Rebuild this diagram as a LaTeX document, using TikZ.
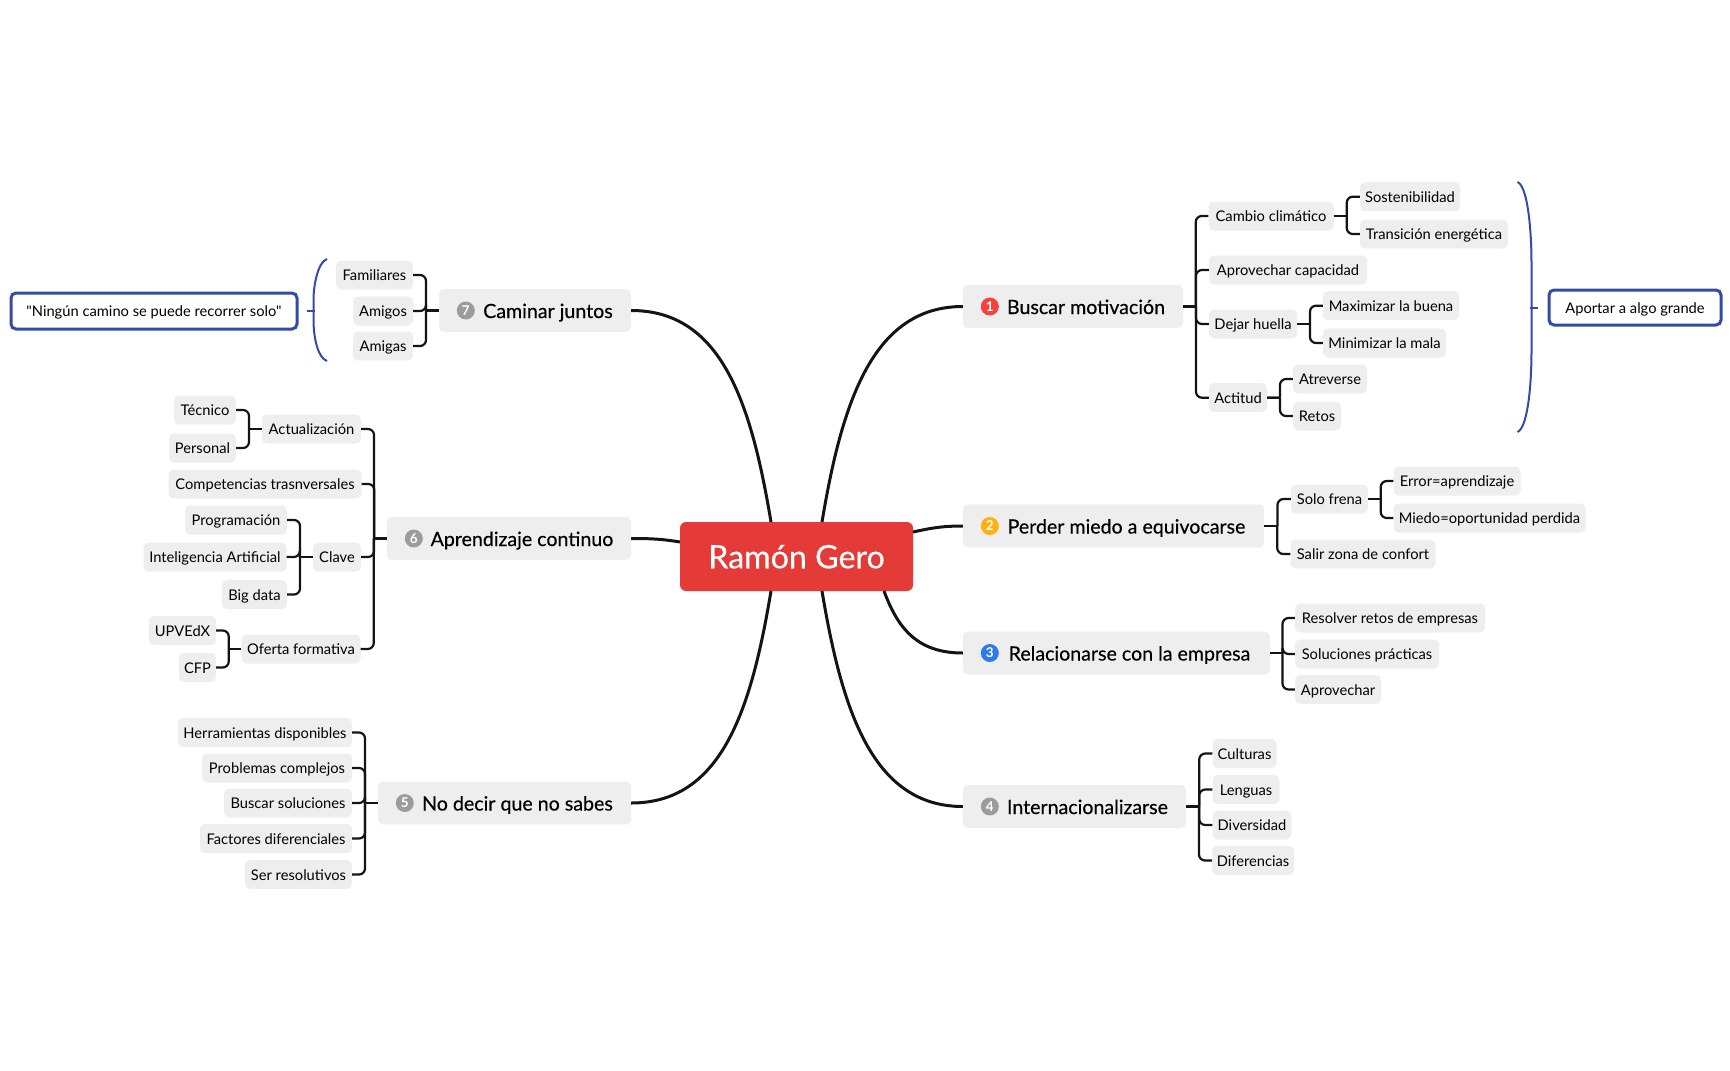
\documentclass[tikz,border=0pt]{standalone}
\usepackage{fontspec}
\setmainfont{Lato}[Ligatures=TeXOff]
\newfontfamily\heavyfont{Lato}[FakeBold=0.35, Ligatures=TeXOff]
\usetikzlibrary{calc}
\definecolor{rootRed}{HTML}{E53B38}
\definecolor{boxGray}{HTML}{EEEEEE}
\definecolor{lineBlack}{HTML}{141414}
\definecolor{noteBlue}{HTML}{3549A8}
\definecolor{badgeRed}{HTML}{F4433C}
\definecolor{badgeOrange}{HTML}{FFB20F}
\definecolor{badgeBlue}{HTML}{2F7BEE}
\definecolor{badgeGray}{HTML}{9C9C9C}
\tikzset{
    rootnode/.style={fill=rootRed, text=white, rounded corners=6pt, minimum height=69pt, minimum width=233pt, inner sep=0pt, text height=23.5pt, text depth=0pt, font=\heavyfont\fontsize{32.2}{36}\selectfont},
    mainnode/.style={fill=boxGray, text=black, rounded corners=5pt, minimum height=43pt, inner sep=0pt, text height=15pt, text depth=0pt, font=\heavyfont\fontsize{19.6}{23}\selectfont},
    subnode/.style={fill=boxGray, text=black, rounded corners=5pt, minimum height=29pt, inner sep=0pt, text height=11pt, text depth=0pt, font=\fontsize{14.7}{18}\selectfont},
    notebox/.style={draw=noteBlue, line width=3pt, fill=white, text=black, rounded corners=5pt, inner sep=0pt, text height=11pt, text depth=0pt, font=\fontsize{14.7}{18}\selectfont},
    badge/.style={circle, text=white, inner sep=0pt, minimum size=18pt, text height=9.5pt, text depth=0pt, font=\fontsize{13.5}{14}\bfseries\selectfont},
    mainlink/.style={draw=lineBlack, line width=3pt},
    sublink/.style={draw=lineBlack, line width=2.2pt},
    sublinkbend/.style={sublink, rounded corners=6pt},
    summaryline/.style={draw=noteBlue, line width=2pt}
}
\newcommand{\branchR}[2]{\foreach \kid in {#2} {
    \coordinate (trunk) at ($(#1.east)!.5!(\kid.west |- #1.east)$);
    \draw[sublink] (#1.east) -- (trunk);
    \draw[sublinkbend] (trunk) |- (\kid.west);}}
\newcommand{\branchL}[2]{\foreach \kid in {#2} {
    \coordinate (trunk) at ($(#1.west)!.5!(\kid.east |- #1.west)$);
    \draw[sublink] (#1.west) -- (trunk);
    \draw[sublinkbend] (trunk) |- (\kid.east);}}
\newcommand{\badgegap}{\hspace*{26pt}}
\begin{document}
\begin{tikzpicture}[x=1pt, y=-1pt]
    \useasboundingbox (0,0) rectangle (1730,1071);

    \node[rootnode] (root) at (796.5,556.5) {Ramón Gero};
    \coordinate (rootNE) at (822,522);
    \coordinate (rootNW) at (771,522);
    \coordinate (rootSE) at (822,591);
    \coordinate (rootSW) at (771,591);
    \coordinate (rootE) at (913,532);
    \coordinate (rootSEE) at (884,591);
    \coordinate (rootW) at (680,542);

    % Main topics
    \node[mainnode, minimum width=220pt] (buscar) at (1073,306.5) {\badgegap Buscar motivación};
    \node[mainnode, minimum width=301pt] (perder) at (1113.5,526) {\badgegap Perder miedo a equivocarse};
    \node[mainnode, minimum width=307pt] (relacion) at (1116.5,653) {\badgegap Relacionarse con la empresa};
    \node[mainnode, minimum width=223pt] (inter) at (1074.5,806.5) {\badgegap Internacionalizarse};
    \node[mainnode, minimum width=253pt] (nodecir) at (504.5,803) {\badgegap No decir que no sabes};
    \node[mainnode, minimum width=244pt] (aprend) at (509,538.5) {\badgegap Aprendizaje continuo};
    \node[mainnode, minimum width=192pt] (caminar) at (535,310.5) {\badgegap Caminar juntos};

    \node[badge, fill=badgeRed] (badge1) at ($(buscar.west)+(27,0)$) {1};
    \node[badge, fill=badgeOrange] (badge2) at ($(perder.west)+(27,0)$) {2};
    \node[badge, fill=badgeBlue] (badge3) at ($(relacion.west)+(27,0)$) {3};
    \node[badge, fill=badgeGray] (badge4) at ($(inter.west)+(27,0)$) {4};
    \node[badge, fill=badgeGray] (badge5) at ($(nodecir.west)+(27,0)$) {5};
    \node[badge, fill=badgeGray] (badge6) at ($(aprend.west)+(27,0)$) {6};
    \node[badge, fill=badgeGray] (badge7) at ($(caminar.west)+(27,0)$) {7};

    \draw[mainlink] (rootNE) .. controls +(20,-120) and +(-90,0) .. (buscar.west);
    \draw[mainlink] (rootE) .. controls +(18,-4) and +(-20,0) .. (perder.west);
    \draw[mainlink] (rootSEE) .. controls +(14,38) and +(-45,0) .. (relacion.west);
    \draw[mainlink] (rootSE) .. controls +(20,120) and +(-90,0) .. (inter.west);
    \draw[mainlink] (rootSW) .. controls +(-20,120) and +(90,0) .. (nodecir.east);
    \draw[mainlink] (rootW) .. controls +(-18,-3) and +(20,0) .. (aprend.east);
    \draw[mainlink] (rootNW) .. controls +(-20,-120) and +(90,0) .. (caminar.east);

    % Buscar motivacion
    \node[subnode, minimum width=125pt] (cambio) at (1271,216) {Cambio climático};
    \node[subnode, minimum width=100pt] (sost) at (1410,196.7) {Sostenibilidad};
    \node[subnode, minimum width=148pt] (trans) at (1434,234) {Transición energética};
    \node[subnode, minimum width=158pt] (aprovcap) at (1288,270) {Aprovechar capacidad};
    \node[subnode, minimum width=88pt] (dejar) at (1253,324) {Dejar huella};
    \node[subnode, minimum width=136pt] (maxim) at (1391,305.7) {Maximizar la buena};
    \node[subnode, minimum width=123pt] (minim) at (1384.5,343) {Minimizar la mala};
    \node[subnode, minimum width=58pt] (actitud) at (1238,397.7) {Actitud};
    \node[subnode, minimum width=74pt] (atrev) at (1330,379) {Atreverse};
    \node[subnode, minimum width=48pt] (retos) at (1317,416) {Retos};
    \branchR{buscar}{cambio,aprovcap,dejar,actitud}
    \branchR{cambio}{sost,trans}
    \branchR{dejar}{maxim,minim}
    \branchR{actitud}{atrev,retos}

    % Perder miedo
    \node[subnode, minimum width=77pt] (solo) at (1329.5,499) {Solo frena};
    \node[subnode, minimum width=127pt] (error) at (1457,481) {Error=aprendizaje};
    \node[subnode, minimum width=192pt] (miedo) at (1489.5,518) {Miedo=oportunidad perdida};
    \node[subnode, minimum width=145pt] (salir) at (1363,554) {Salir zona de confort};
    \branchR{perder}{solo,salir}
    \branchR{solo}{error,miedo}

    % Relacionarse
    \node[subnode, minimum width=190pt] (resolver) at (1390,618) {Resolver retos de empresas};
    \node[subnode, minimum width=144pt] (soluc) at (1367,654) {Soluciones prácticas};
    \node[subnode, minimum width=86pt] (aprov) at (1338,689.5) {Aprovechar};
    \branchR{relacion}{resolver,soluc,aprov}

    % Internacionalizarse
    \node[subnode, minimum width=64pt] (cult) at (1244.5,753.5) {Culturas};
    \node[subnode, minimum width=67pt] (leng) at (1246,789.5) {Lenguas};
    \node[subnode, minimum width=79pt] (divers) at (1252,825) {Diversidad};
    \node[subnode, minimum width=82pt] (difer) at (1253,860.5) {Diferencias};
    \branchR{inter}{cult,leng,divers,difer}

    % Caminar juntos
    \node[subnode, minimum width=77pt] (famil) at (374.5,275) {Familiares};
    \node[subnode, minimum width=60pt] (amigos) at (383,311) {Amigos};
    \node[subnode, minimum width=60pt] (amigas) at (383,346) {Amigas};
    \branchL{caminar}{famil,amigos,amigas}

    % Aprendizaje continuo
    \node[subnode, minimum width=99pt] (actual) at (311.5,429) {Actualización};
    \node[subnode, minimum width=62pt] (tecnico) at (205,410) {Técnico};
    \node[subnode, minimum width=67pt] (personal) at (202.5,448) {Personal};
    \node[subnode, minimum width=193pt] (compet) at (265,484) {Competencias trasnversales};
    \node[subnode, minimum width=48pt] (clave) at (337,557) {Clave};
    \node[subnode, minimum width=102pt] (program) at (236,520) {Programación};
    \node[subnode, minimum width=143pt] (intel) at (215,557) {Inteligencia Artificial};
    \node[subnode, minimum width=65pt] (bigdata) at (254.5,594.5) {Big data};
    \node[subnode, minimum width=119pt] (oferta) at (301,649) {Oferta formativa};
    \node[subnode, minimum width=67pt] (upv) at (182.5,630.5) {UPVEdX};
    \node[subnode, minimum width=37pt] (cfp) at (197.5,667.5) {CFP};
    \branchL{aprend}{actual,compet,clave,oferta}
    \branchL{actual}{tecnico,personal}
    \branchL{clave}{program,intel,bigdata}
    \branchL{oferta}{upv,cfp}

    % No decir que no sabes
    \node[subnode, minimum width=174pt] (herram) at (265,732.5) {Herramientas disponibles};
    \node[subnode, minimum width=150pt] (problem) at (277,768) {Problemas complejos};
    \node[subnode, minimum width=128pt] (buscarsol) at (288,803) {Buscar soluciones};
    \node[subnode, minimum width=152pt] (factores) at (276,838.5) {Factores diferenciales};
    \node[subnode, minimum width=107pt] (resolut) at (298.5,874.5) {Ser resolutivos};
    \branchL{nodecir}{herram,problem,buscarsol,factores,resolut}

    % Summaries
    \node[notebox, minimum width=172pt, minimum height=35pt] (aportar) at (1635,307.5) {Aportar a algo grande};
    \node[notebox, minimum width=286pt, minimum height=36pt] (quote) at (154,311) {"Ningún camino se puede recorrer solo"};
    \coordinate (summaryR) at ($(aportar.west)+(-10,0)$);
    \coordinate (summaryL) at ($(quote.east)+(8.5,0)$);
    \draw[summaryline] (summaryR) -- ++(-7.5,0);
    \draw[summaryline] (1517.5,182) .. controls (1527,186) and (1531.5,225) .. (1531.5,265) -- (1531.5,350) .. controls (1531.5,390) and (1527,428) .. (1517.5,432);
    \draw[summaryline] (summaryL) -- ++(8,0);
    \draw[summaryline] (327,259) .. controls (318,262) and (313.5,285) .. (313.5,300) -- (313.5,320) .. controls (313.5,338) and (318,358) .. (327,361);
\end{tikzpicture}
\end{document}
